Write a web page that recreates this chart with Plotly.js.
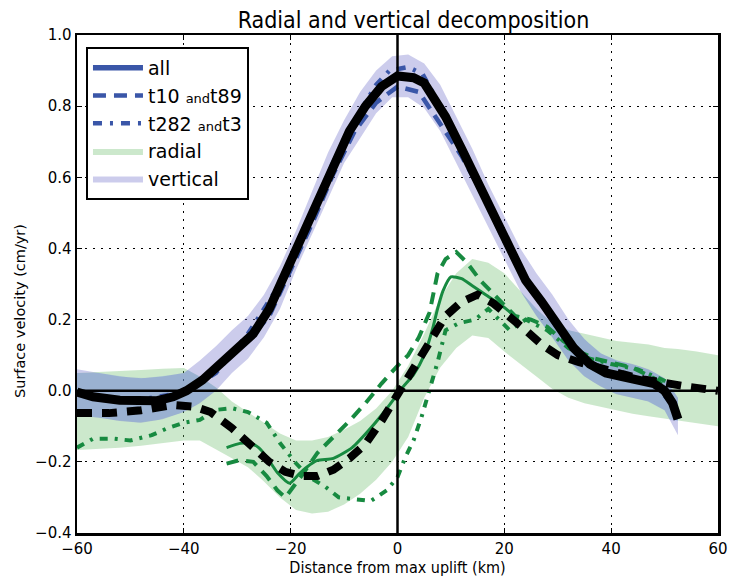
<!DOCTYPE html>
<html>
<head>
<meta charset="utf-8">
<script src="https://cdn.plot.ly/plotly-3.0.1.min.js"></script>
<style>html,body{margin:0;padding:0;background:#fff;}#chart{width:734px;height:577px;}</style>
</head>
<body>
<div id="chart"></div>
<script>
// ---- Data ----
// Shared x grid for the uncertainty bands (km)
const bandX = [-60,-56,-52,-48,-44,-40,-37,-34,-31,-28,-25,-22,-19,-16,-13,-10,-7,-4,-1,2,5,8,11,14,17,20,23,26,29,32,35,38,41,44,47,50,52.5,56,60];
// Radial band (green)
const radialHi = [0.05,0.052,0.055,0.058,0.062,0.064,0.04,0.01,-0.03,-0.06,-0.09,-0.12,-0.14,-0.14,-0.13,-0.11,-0.085,-0.05,0.0,0.07,0.16,0.26,0.33,0.37,0.36,0.33,0.28,0.23,0.19,0.17,0.16,0.15,0.14,0.135,0.13,0.12,0.117,0.11,0.10];
const radialLo = [-0.167,-0.163,-0.16,-0.155,-0.148,-0.14,-0.14,-0.165,-0.19,-0.215,-0.255,-0.3,-0.335,-0.345,-0.34,-0.32,-0.29,-0.25,-0.2,-0.13,-0.02,0.065,0.12,0.155,0.148,0.11,0.075,0.04,0.005,-0.02,-0.035,-0.046,-0.055,-0.065,-0.072,-0.08,-0.085,-0.092,-0.10];
// Vertical band (lavender)
const vertHi = [0.06,0.05,0.04,0.035,0.04,0.05,0.085,0.125,0.17,0.21,0.27,0.35,0.45,0.56,0.67,0.76,0.84,0.9,0.94,0.945,0.92,0.86,0.77,0.68,0.58,0.49,0.4,0.33,0.27,0.2,0.145,0.105,0.085,0.075,0.06,0.035,-0.02,null,null];
const vertLo = [-0.07,-0.075,-0.085,-0.09,-0.08,-0.06,-0.035,0.0,0.05,0.09,0.15,0.23,0.34,0.44,0.54,0.64,0.71,0.78,0.825,0.825,0.795,0.73,0.64,0.55,0.46,0.37,0.28,0.21,0.15,0.085,0.04,0.012,-0.01,-0.02,-0.03,-0.055,-0.125,null,null];

// Vertical, all tracks (black solid / blue "all")
const allX = [-60,-57,-52,-48,-45,-42,-39.5,-36.5,-33,-30,-27,-24,-21,-18,-15,-12,-9,-6,-3,0,3,5,7,9,12,15,18,21,24,27,30,33,36,39,42,45,48,50,51.5,52.5];
const allV = [-0.004,-0.017,-0.027,-0.03,-0.028,-0.017,0.0,0.03,0.075,0.12,0.16,0.23,0.33,0.43,0.53,0.64,0.73,0.80,0.855,0.885,0.88,0.865,0.82,0.77,0.68,0.585,0.49,0.40,0.31,0.25,0.185,0.12,0.075,0.05,0.04,0.03,0.02,0.0,-0.035,-0.08];
// Vertical, t10 and t89 (blue dashed)
const t10VX = [-32,-28,-24,-20,-16,-12,-8,-4,0,4,8,12,16,20,24,28,32,36,40,44,48,51];
const t10V = [0.085,0.14,0.21,0.34,0.47,0.61,0.73,0.81,0.855,0.84,0.75,0.66,0.55,0.42,0.31,0.22,0.13,0.075,0.05,0.035,0.02,-0.03];
// Vertical, t282 and t3 (blue dash-dot)
const t282VX = [-60,-50,-40,-34,-28,-22,-16,-12,-8,-4,-1.5,2,4.7,8,12,16,20,24,28,32,36,40,44,48,51];
const t282V = [-0.005,-0.03,-0.005,0.05,0.16,0.3,0.5,0.64,0.76,0.86,0.9,0.91,0.89,0.8,0.68,0.56,0.42,0.32,0.23,0.14,0.08,0.05,0.035,0.02,-0.03];

// Radial, all tracks (black dashed)
const radX = [-60,-54,-48,-42,-38,-35,-31,-27,-24,-21,-18,-15,-12,-9,-6,-3,0,3,6,9,12,15,18,21,24,27,30,34,38,42,46,50,54,60];
const radV = [-0.063,-0.063,-0.055,-0.04,-0.045,-0.06,-0.105,-0.16,-0.2,-0.228,-0.24,-0.24,-0.222,-0.19,-0.15,-0.085,-0.01,0.065,0.145,0.21,0.25,0.27,0.245,0.21,0.17,0.13,0.1,0.08,0.062,0.047,0.032,0.02,0.012,0.0];
// Radial, green solid
const radGX = [-32,-29.5,-27.7,-26,-24.5,-22.5,-20.2,-18.5,-17,-15,-12,-8.5,-5,-2,1,3,5,6.5,7.5,8.5,10,12,14,16.5,19,21.5,23];
const radG = [-0.16,-0.148,-0.147,-0.16,-0.186,-0.23,-0.26,-0.235,-0.215,-0.196,-0.19,-0.16,-0.105,-0.05,0.01,0.045,0.1,0.17,0.23,0.28,0.32,0.315,0.295,0.27,0.245,0.215,0.19];
// Radial, t10 and t89 (green dashed)
const t10RX = [-32,-29.5,-27,-24.5,-22.5,-21,-19.5,-18,-15,-12,-9,-6,-3,0,2,4,6,7.5,9,11,13,15.5,18,20,22,25,28,31,34,37,40,44,48,50];
const t10R = [-0.205,-0.195,-0.2,-0.24,-0.28,-0.3,-0.27,-0.24,-0.175,-0.13,-0.085,-0.035,0.02,0.07,0.1,0.15,0.22,0.33,0.37,0.39,0.36,0.31,0.27,0.24,0.21,0.2,0.18,0.14,0.11,0.09,0.08,0.065,0.035,0.012];
// Radial, t282 and t3 (green dash-dot)
const t282RX = [-60,-57,-53,-50,-46,-43,-40,-37,-34,-31,-28,-24.5,-22,-19,-16.5,-13.5,-11,-8,-5,-2,0,1.5,3,4.5,6,7.5,9,11.5,14.5,17,19,21,24,28,32,36,40,45,49,51];
const t282R = [-0.16,-0.135,-0.135,-0.14,-0.125,-0.105,-0.09,-0.082,-0.054,-0.049,-0.06,-0.09,-0.147,-0.204,-0.243,-0.27,-0.3,-0.306,-0.31,-0.28,-0.243,-0.186,-0.14,-0.074,0.0,0.08,0.17,0.19,0.2,0.23,0.2,0.17,0.2,0.17,0.12,0.09,0.075,0.06,0.035,0.02];

// ---- Styles ----
const BLUE = '#3a56a8', GREEN = '#178a40';
const condensed = 'DejaVu Sans Condensed, Liberation Sans Narrow, Open Sans, sans-serif';
const regular = 'DejaVu Sans, Verdana, sans-serif';

function bandPoly(xs, hi, lo) {
  const px = [], pyH = [], pyL = [];
  for (let i = 0; i < xs.length; i++) {
    if (hi[i] === null || lo[i] === null) continue;
    px.push(xs[i]); pyH.push(hi[i]); pyL.push(lo[i]);
  }
  return { x: px.concat(px.slice().reverse()), y: pyH.concat(pyL.slice().reverse()) };
}

// overlap region of the two bands (drawn bluish like the reference)
function overlapSegments() {
  const segs = []; let cur = null; const K = 10;
  const close = () => { if (cur && cur.x.length > 1) segs.push(cur); cur = null; };
  for (let i = 0; i < bandX.length - 1; i++) {
    if (vertHi[i] === null || vertHi[i + 1] === null) { close(); continue; }
    for (let k = 0; k <= K; k++) {
      if (k === K && i < bandX.length - 2 && vertHi[i + 2] !== null) continue;
      const t = k / K;
      const L = (a) => a[i] + (a[i + 1] - a[i]) * t;
      const x = bandX[i] + (bandX[i + 1] - bandX[i]) * t;
      const lo = Math.max(L(radialLo), L(vertLo));
      const hi = Math.min(L(radialHi), L(vertHi));
      if (hi > lo) {
        if (!cur) cur = { x: [], hi: [], lo: [] };
        cur.x.push(x); cur.hi.push(hi); cur.lo.push(lo);
      } else close();
    }
  }
  close();
  return segs;
}

const traces = [];
const rp = bandPoly(bandX, radialHi, radialLo);
traces.push({ x: rp.x, y: rp.y, type: 'scatter', mode: 'lines', fill: 'toself', fillcolor: 'rgba(110,190,110,0.35)', line: { width: 0, color: 'rgba(0,0,0,0)' }, name: 'radial', legendrank: 4, legendgroup: 'g4', hoverinfo: 'skip' });
const vp = bandPoly(bandX, vertHi, vertLo);
traces.push({ x: vp.x, y: vp.y, type: 'scatter', mode: 'lines', fill: 'toself', fillcolor: 'rgba(110,110,200,0.35)', line: { width: 0, color: 'rgba(0,0,0,0)' }, name: 'vertical', legendrank: 5, legendgroup: 'g5', hoverinfo: 'skip' });
overlapSegments().forEach(s => {
  traces.push({ x: s.x.concat(s.x.slice().reverse()), y: s.hi.concat(s.lo.slice().reverse()), type: 'scatter', mode: 'lines', fill: 'toself', fillcolor: 'rgba(80,120,240,0.18)', line: { width: 0, color: 'rgba(0,0,0,0)' }, showlegend: false, hoverinfo: 'skip' });
});

// blue vertical track lines
traces.push({ x: t282VX, y: t282V, type: 'scatter', mode: 'lines', line: { color: BLUE, width: 4.5, dash: '9px,8px,3px,8px' }, name: 't282 <span style="font-size:13px">and</span>t3', legendrank: 3, legendgroup: 'g3' });
traces.push({ x: t10VX, y: t10V, type: 'scatter', mode: 'lines', line: { color: BLUE, width: 4.5, dash: '13px,8px' }, name: 't10 <span style="font-size:13px">and</span>t89', legendrank: 2, legendgroup: 'g2' });
traces.push({ x: allX, y: allV, type: 'scatter', mode: 'lines', line: { color: BLUE, width: 5.5 }, name: 'all', legendrank: 1, legendgroup: 'g1' });

// green radial lines
traces.push({ x: t282RX, y: t282R, type: 'scatter', mode: 'lines', line: { color: GREEN, width: 4, dash: '8px,7px,3px,7px' }, showlegend: false });
traces.push({ x: t10RX, y: t10R, type: 'scatter', mode: 'lines', line: { color: GREEN, width: 4, dash: '12px,8px' }, showlegend: false });
traces.push({ x: radGX, y: radG, type: 'scatter', mode: 'lines', line: { color: GREEN, width: 3, shape: 'spline', smoothing: 0.6 }, showlegend: false });

// black combined lines
traces.push({ x: radX, y: radV, type: 'scatter', mode: 'lines', line: { color: 'black', width: 8, dash: '15px,10px' }, showlegend: false });
traces.push({ x: allX, y: allV, type: 'scatter', mode: 'lines', line: { color: 'black', width: 9 }, showlegend: false });

const axisCommon = {
  showline: true, linecolor: 'black', linewidth: 2.5, mirror: 'ticks',
  ticks: 'inside', ticklen: 5, tickwidth: 1, tickcolor: 'black',
  showgrid: true, gridcolor: 'black', gridwidth: 1, griddash: '2px,6px',
  zeroline: false,
  tickfont: { family: regular, size: 15, color: 'black' }
};

const layout = {
  width: 734, height: 577,
  margin: { l: 77, r: 16, t: 35, b: 44 },
  paper_bgcolor: 'white', plot_bgcolor: 'white',
  title: { text: 'Radial and vertical decomposition', font: { family: condensed, size: 23, color: 'black' }, x: 0.525, xref: 'paper', xanchor: 'center', y: 1 - 20 / 577, yref: 'container', yanchor: 'middle' },
  xaxis: Object.assign({}, axisCommon, { range: [-60, 60], dtick: 20, tick0: 0,
    title: { text: 'Distance from max uplift (km)', font: { family: condensed, size: 16, color: 'black' }, standoff: 6 } }),
  yaxis: Object.assign({}, axisCommon, { range: [-0.4, 1.0], dtick: 0.2, tick0: 0, tickformat: '.1f' }),
  showlegend: true,
  legend: { x: 0.014, y: 0.976, xanchor: 'left', yanchor: 'top', bgcolor: 'white', bordercolor: 'black', borderwidth: 2,
    font: { family: regular, size: 19, color: 'black' }, traceorder: 'grouped', tracegroupgap: 0, itemwidth: 50 },
  annotations: [{ text: 'Surface velocity (cm/yr)', xref: 'paper', yref: 'paper', x: -0.088, y: 0.445, textangle: -90, showarrow: false,
    xanchor: 'center', yanchor: 'middle', font: { family: regular, size: 14.5, color: 'black' } }],
  shapes: [
    { type: 'line', xref: 'paper', yref: 'y', x0: 0, x1: 1, y0: 0, y1: 0, line: { color: 'black', width: 2.5 }, layer: 'above' },
    { type: 'line', xref: 'x', yref: 'paper', x0: 0, x1: 0, y0: 0, y1: 1, line: { color: 'black', width: 2.5 }, layer: 'above' }
  ]
};

Plotly.newPlot('chart', traces, layout, { staticPlot: true });
</script>
</body>
</html>
